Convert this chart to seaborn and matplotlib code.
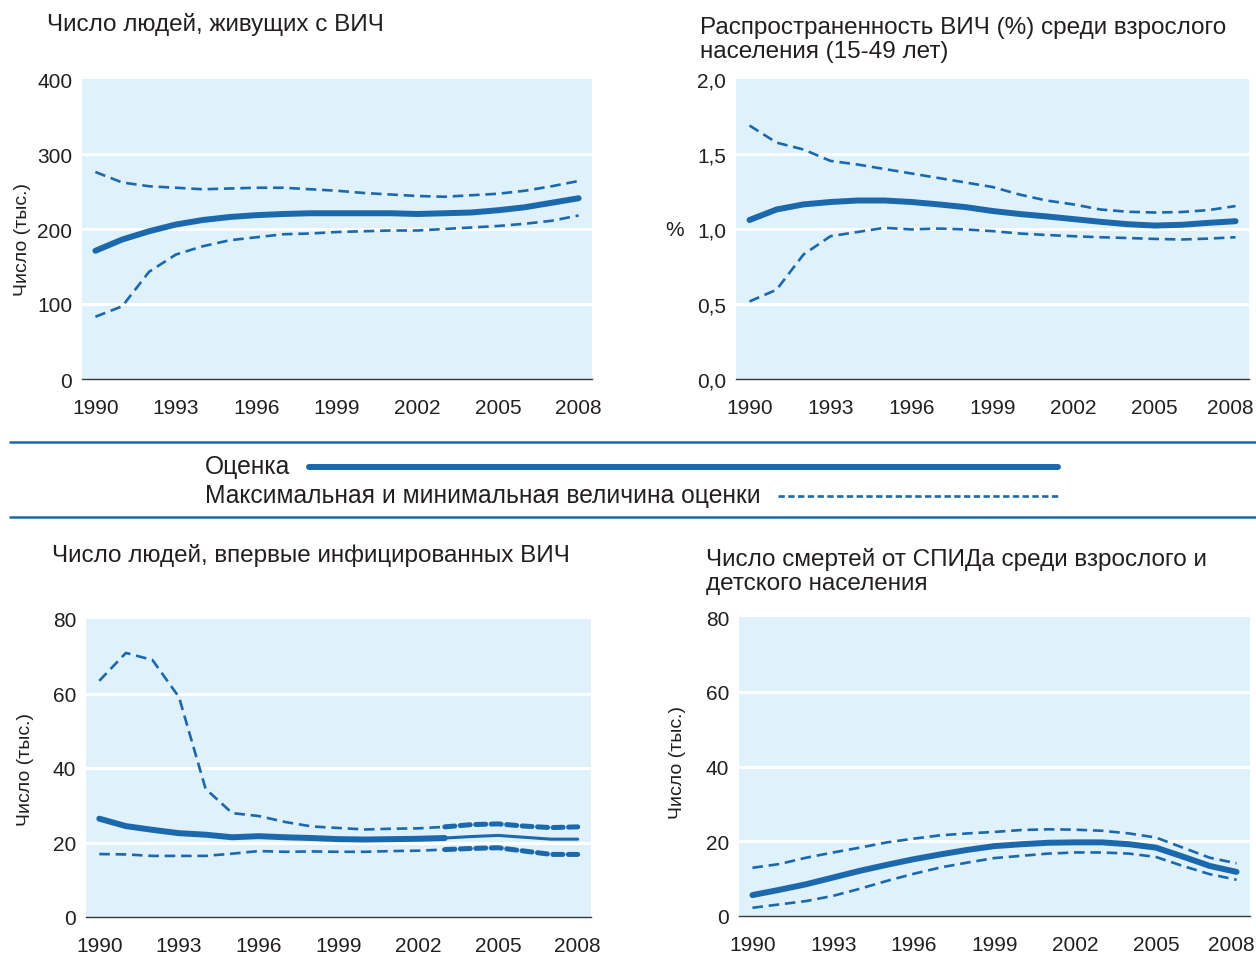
import numpy as np
import pandas as pd
import matplotlib
matplotlib.use("Agg")
import matplotlib.pyplot as plt
import matplotlib.transforms as mtransforms
from matplotlib.lines import Line2D
from matplotlib.ticker import MultipleLocator, FixedLocator, NullFormatter
import seaborn as sns

sns.set_theme(style="white")
plt.rcParams["font.family"] = ["Liberation Sans", "DejaVu Sans"]

years = list(range(1990, 2009))
tick_years = [1990, 1993, 1996, 1999, 2002, 2005, 2008]

# People living with HIV (thousands)
plhiv_est = [171, 186, 197, 206, 212, 216, 218.5, 220, 221, 221, 221, 221, 220, 221, 222, 225, 229, 235, 241]
plhiv_hi = [276, 262, 257, 255, 253, 254, 255, 255, 253, 251, 248, 246, 244, 243, 245, 247, 251, 257, 264]
plhiv_lo = [83, 97, 143, 166, 177, 185, 189, 193, 194, 196, 197, 198, 198, 200, 202, 204, 207, 211, 218]

# Adult prevalence (%), 15-49
prev_est = [1.06, 1.13, 1.164, 1.18, 1.19, 1.19, 1.18, 1.164, 1.146, 1.12, 1.10, 1.084, 1.066, 1.048, 1.032, 1.023, 1.028, 1.041, 1.052]
prev_hi = [1.69, 1.576, 1.53, 1.454, 1.43, 1.40, 1.37, 1.34, 1.31, 1.28, 1.23, 1.19, 1.164, 1.13, 1.115, 1.11, 1.113, 1.126, 1.153]
prev_lo = [0.517, 0.595, 0.83, 0.952, 0.98, 1.008, 0.997, 1.003, 0.997, 0.986, 0.97, 0.96, 0.952, 0.945, 0.94, 0.934, 0.93, 0.936, 0.945]

# New HIV infections (thousands)
new_est = [26.4, 24.4, 23.4, 22.5, 22.1, 21.4, 21.7, 21.4, 21.2, 20.9, 20.8, 20.9, 21.0, 21.2, 21.6, 21.9, 21.4, 20.9, 20.9]
new_hi = [63.4, 70.9, 69.0, 59.0, 34.4, 27.9, 27.1, 25.5, 24.3, 23.9, 23.5, 23.7, 23.8, 24.2, 24.8, 25.0, 24.4, 24.0, 24.2]
new_lo = [16.9, 16.8, 16.4, 16.4, 16.4, 17.0, 17.7, 17.5, 17.6, 17.5, 17.5, 17.7, 17.8, 18.1, 18.4, 18.6, 17.7, 16.8, 16.8]

# AIDS deaths, adults and children (thousands)
death_est = [5.6, 7.0, 8.5, 10.3, 12.1, 13.7, 15.2, 16.5, 17.7, 18.7, 19.2, 19.6, 19.7, 19.7, 19.2, 18.3, 15.9, 13.4, 11.8]
death_hi = [12.9, 13.9, 15.6, 17.0, 18.3, 19.7, 20.7, 21.6, 22.1, 22.5, 23.0, 23.2, 23.1, 22.8, 22.1, 21.0, 18.3, 15.6, 14.1]
death_lo = [2.2, 3.1, 4.0, 5.4, 7.3, 9.4, 11.3, 13.0, 14.3, 15.5, 16.1, 16.7, 17.0, 17.0, 16.7, 15.8, 13.4, 11.2, 9.7]

titles = [
    "Число людей, живущих с ВИЧ",
    "Распространенность ВИЧ (%) среди взрослого\nнаселения (15-49 лет)",
    "Число людей, впервые инфицированных ВИЧ",
    "Число смертей от СПИДа среди взрослого и\nдетского населения",
]
ylabels = ["Число (тыс.)", "%", "Число (тыс.)", "Число (тыс.)"]
legend_labels = ["Оценка", "Максимальная и минимальная величина оценки"]

BLUE = "#1c68ad"
BG = "#dff1fb"
TXT = "#231f20"
W, H = 1256, 954
TITLE_FS = 17.5
LEGEND_FS = 17.7
TICK_FS = 15

fig = plt.figure(figsize=(W / 100, H / 100), dpi=100)


def px_axes(left, top, right, bottom):
    return fig.add_axes([left / W, 1 - bottom / H, (right - left) / W, (bottom - top) / H])


EST_LW = 4.3
BND_LW = 1.9
DASH = (4.0, 2.2)


def draw_series(ax, x, y, lw, dashed, dash=DASH):
    sns.lineplot(x=x, y=y, color=BLUE, linewidth=lw, ax=ax, legend=False)
    ln = ax.lines[-1]
    ln.set_solid_capstyle("round")
    ln.set_solid_joinstyle("round")
    if dashed:
        ln.set_linestyle((0, dash))
        ln.set_dash_capstyle("butt")
    return ln


def style_axes(ax, ymax, ystep, fmt, ylabel, ylabel_horizontal=False):
    ax.set_facecolor(BG)
    ax.set_xlim(1989.5, 2008.5)
    ax.set_ylim(0, ymax)
    for s in ["top", "right", "left"]:
        ax.spines[s].set_visible(False)
    ax.spines["bottom"].set_color("#3a3a3a")
    ax.spines["bottom"].set_linewidth(1.0)
    ax.xaxis.set_major_locator(FixedLocator(tick_years))
    ax.set_xticklabels([str(t) for t in tick_years])
    ax.xaxis.set_minor_locator(FixedLocator([y - 0.5 for y in years] + [2008.5]))
    ax.xaxis.set_minor_formatter(NullFormatter())
    ax.tick_params(axis="x", which="major", length=0, pad=14, labelsize=TICK_FS, labelcolor=TXT)
    ax.tick_params(axis="x", which="minor", length=6, width=1.0, color="#3a3a3a", direction="out")
    ax.yaxis.set_major_locator(MultipleLocator(ystep))
    ax.set_yticklabels([fmt(v) for v in ax.get_yticks()])
    ax.tick_params(axis="y", length=0, pad=7, labelsize=TICK_FS, labelcolor=TXT)
    ax.grid(False)
    for v in np.arange(ystep, ymax, ystep):
        ax.axhline(v, color="white", linewidth=2.2, zorder=1)
    ax.set_xlabel("")
    if ylabel_horizontal:
        ax.set_ylabel(ylabel, rotation=0, fontsize=TICK_FS, color=TXT, labelpad=16, va="center")
    else:
        ax.set_ylabel(ylabel, fontsize=14, color=TXT, labelpad=6)


def nudge_last_xlabel(ax, dx_px):
    # keep the final year label inside the figure edge
    lab = ax.get_xticklabels()[-1]
    lab.set_transform(lab.get_transform() + mtransforms.ScaledTranslation(dx_px / 100, 0, fig.dpi_scale_trans))


int_fmt = lambda v: f"{int(round(v))}"
pct_fmt = lambda v: f"{v:.1f}".replace(".", ",")

# Panel positions in pixels: left, top, right, bottom
ax1 = px_axes(82, 80, 592, 380)
ax2 = px_axes(736, 80, 1249, 380)
ax3 = px_axes(86, 620, 591, 918)
ax4 = px_axes(739, 618, 1250, 917)

for ax, est, hi, lo in [(ax1, plhiv_est, plhiv_hi, plhiv_lo),
                        (ax2, prev_est, prev_hi, prev_lo),
                        (ax4, death_est, death_hi, death_lo)]:
    draw_series(ax, years, hi, BND_LW, True)
    draw_series(ax, years, lo, BND_LW, True)
    draw_series(ax, years, est, EST_LW, False)

# New infections: the estimate line narrows after 2003 while the bounds widen
split = years.index(2003)
heavy_dash = (2.0, 1.1)
draw_series(ax3, years[:split + 1], new_hi[:split + 1], BND_LW, True)
draw_series(ax3, years[split:], new_hi[split:], 3.6, True, heavy_dash).set_dash_capstyle("round")
draw_series(ax3, years[:split + 1], new_lo[:split + 1], BND_LW, True)
draw_series(ax3, years[split:], new_lo[split:], 3.6, True, heavy_dash).set_dash_capstyle("round")
draw_series(ax3, years[:split + 1], new_est[:split + 1], EST_LW, False)
draw_series(ax3, years[split:], new_est[split:], 2.2, False)

style_axes(ax1, 400, 100, int_fmt, ylabels[0])
style_axes(ax2, 2.0, 0.5, pct_fmt, ylabels[1], ylabel_horizontal=True)
style_axes(ax3, 80, 20, int_fmt, ylabels[2])
style_axes(ax4, 80, 20, int_fmt, ylabels[3])

ax1.yaxis.set_label_coords(-0.100, 0.467)
ax3.yaxis.set_label_coords(-0.103, 0.50)
ax4.yaxis.set_label_coords(-0.104, 0.518)
nudge_last_xlabel(ax2, -5)
nudge_last_xlabel(ax4, -5)

# Panel titles
fig.text(47 / W, 1 - 25 / H, titles[0], fontsize=TITLE_FS, color=TXT, va="center", ha="left")
fig.text(700 / W, 1 - 40 / H, titles[1], fontsize=TITLE_FS, color=TXT, va="center", ha="left", linespacing=1.12)
fig.text(52 / W, 1 - 556 / H, titles[2], fontsize=TITLE_FS, color=TXT, va="center", ha="left")
fig.text(706 / W, 1 - 571.5 / H, titles[3], fontsize=TITLE_FS, color=TXT, va="center", ha="left", linespacing=1.12)

# Legend band between the panel rows
leg = fig.add_axes([0, 0, 1, 1], facecolor="none")
leg.set_xlim(0, W)
leg.set_ylim(H, 0)
leg.axis("off")
leg.add_line(Line2D([10, W], [443, 443], color=BLUE, linewidth=1.8))
leg.add_line(Line2D([10, W], [518, 518], color=BLUE, linewidth=1.8))
leg.text(205, 467, legend_labels[0], fontsize=LEGEND_FS, color=TXT, va="center", ha="left")
leg.text(205, 496, legend_labels[1], fontsize=LEGEND_FS, color=TXT, va="center", ha="left")
leg.add_line(Line2D([309, 1058], [468, 468], color=BLUE, linewidth=EST_LW, solid_capstyle="round"))
leg.add_line(Line2D([778, 1060], [497, 497], color=BLUE, linewidth=BND_LW,
                    linestyle=(0, (2.4, 1.3)), dash_capstyle="butt"))

fig.savefig("out.png", dpi=100)
